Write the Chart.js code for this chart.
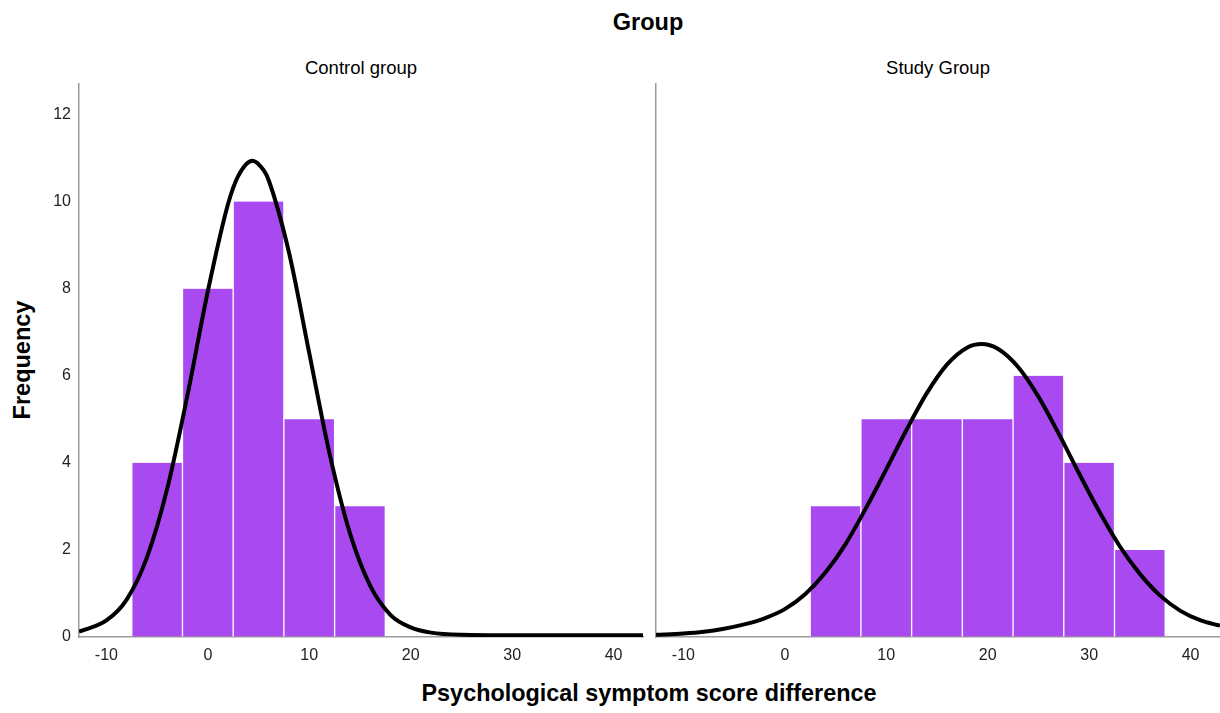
<!DOCTYPE html>
<html>
<head>
<meta charset="utf-8">
<script src="https://cdn.jsdelivr.net/npm/chart.js@4/dist/chart.umd.min.js"></script>
<style>
  html, body { margin:0; padding:0; background:#fff; }
  body { width:1220px; height:713px; position:relative; overflow:hidden; font-family:"Liberation Sans", Arial, sans-serif; }
  .txt { position:absolute; white-space:nowrap; color:#000; }
  canvas { position:absolute; }
</style>
</head>
<body>
<div class="txt" id="mainTitle" style="left:648px; top:22px; transform:translate(-50%,-50%); font-weight:bold; font-size:23.5px;">Group</div>
<div class="txt" id="panel1" style="left:361px; top:68px; transform:translate(-50%,-50%); font-size:18.5px;">Control group</div>
<div class="txt" id="panel2" style="left:938px; top:68px; transform:translate(-50%,-50%); font-size:18.5px;">Study Group</div>
<div class="txt" id="yTitle" style="left:22px; top:360px; transform:translate(-50%,-50%) rotate(-90deg); font-weight:bold; font-size:23.5px;">Frequency</div>
<div class="txt" id="xTitle" style="left:649px; top:693px; transform:translate(-50%,-50%); font-weight:bold; font-size:23.4px;">Psychological symptom score difference</div>
<canvas id="c1" width="650" height="603" style="left:0px; top:74px;"></canvas>
<canvas id="c2" width="570" height="603" style="left:650px; top:74px;"></canvas>
<script>
// ---- Data ----
const panelTitles = ["Control group", "Study Group"];
const xTickValues = [-10, 0, 10, 20, 30, 40];
const yTickValues = [0, 2, 4, 6, 8, 10, 12];

const binCentersControl = [-5, 0, 5, 10, 15];
const freqControl = [4, 8, 10, 5, 3];

const binCentersStudy = [5, 10, 15, 20, 25, 30, 35];
const freqStudy = [3, 5, 5, 5, 6, 4, 2];

// normal curve
const curveXControl = [-12.7, -10, -8, -6, -4, -2, 0, 2, 3, 4.4, 5.5, 6, 8, 10, 12, 14, 16, 18, 20, 22, 25, 30, 36, 42.9];
const curveYControl = [0.12, 0.38, 0.86, 1.83, 3.41, 5.56, 7.94, 9.95, 10.59, 10.94, 10.72, 10.49, 8.83, 6.52, 4.21, 2.39, 1.18, 0.51, 0.22, 0.1, 0.05, 0.04, 0.04, 0.04];

const curveXStudy = [-12.7, -10, -8, -6, -4, -2, 0, 2, 4, 6, 8, 10, 12, 14, 16, 18, 19.4, 21, 23, 25, 27, 29, 31, 33, 35, 37, 39, 41, 42.9];
const curveYStudy = [0.05, 0.08, 0.12, 0.19, 0.29, 0.43, 0.64, 0.98, 1.48, 2.14, 2.96, 3.85, 4.76, 5.60, 6.26, 6.65, 6.73, 6.62, 6.20, 5.52, 4.67, 3.76, 2.88, 2.09, 1.45, 0.95, 0.60, 0.38, 0.26];

const xMin = -12.7, xMax = 42.9, yMin = 0, yMax = 12.7;

// ---- Styles ----
const barColor = '#a94af0';
const axisColor = '#9a9a9a';
const tickFont = { family: '"Liberation Sans", Arial, sans-serif', size: 16 };

function zip(xs, ys) { return xs.map((x, i) => ({ x: x, y: ys[i] })); }

function makeChart(id, centers, freqs, cx, cy, showY, yWidth, padRight) {
  return new Chart(document.getElementById(id), {
    data: {
      datasets: [
        {
          type: 'line',
          data: zip(cx, cy),
          borderColor: '#000',
          borderWidth: 4,
          pointRadius: 0,
          fill: false,
          cubicInterpolationMode: 'monotone',
          order: 0
        },
        {
          type: 'bar',
          data: zip(centers, freqs),
          backgroundColor: barColor,
          borderColor: '#ffffff',
          borderWidth: { left: 1, right: 1, top: 0, bottom: 0 },
          borderSkipped: false,
          barPercentage: 1,
          categoryPercentage: 1,
          order: 1
        }
      ]
    },
    options: {
      responsive: false,
      animation: false,
      devicePixelRatio: 1,
      layout: { padding: { top: 10, right: padRight, left: 0, bottom: 0 } },
      plugins: { legend: { display: false }, tooltip: { enabled: false }, title: { display: false } },
      scales: {
        x: {
          type: 'linear',
          min: xMin, max: xMax,
          offset: false,
          grid: { display: true, color: 'rgba(0,0,0,0)', drawTicks: false, offset: false },
          border: { display: true, color: axisColor, width: 1.5 },
          ticks: { color: '#222', font: tickFont, padding: 9, maxRotation: 0 },
          afterBuildTicks: (s) => { s.ticks = xTickValues.map(v => ({ value: v })); },
          afterFit: (s) => { s.height = 40; s.paddingLeft = 0; s.paddingRight = 0; }
        },
        y: {
          type: 'linear',
          min: yMin, max: yMax,
          grid: { display: true, color: 'rgba(0,0,0,0)', drawTicks: false },
          border: { display: true, color: axisColor, width: 1.5 },
          ticks: { display: showY, color: '#222', font: tickFont, padding: 8 },
          afterBuildTicks: (s) => { s.ticks = yTickValues.map(v => ({ value: v })); },
          afterFit: (s) => { s.width = yWidth; s.paddingTop = 0; s.paddingBottom = 0; }
        }
      }
    }
  });
}

makeChart('c1', binCentersControl, freqControl, curveXControl, curveYControl, true, 79, 7);
makeChart('c2', binCentersStudy, freqStudy, curveXStudy, curveYStudy, false, 6, 0);
</script>
</body>
</html>
